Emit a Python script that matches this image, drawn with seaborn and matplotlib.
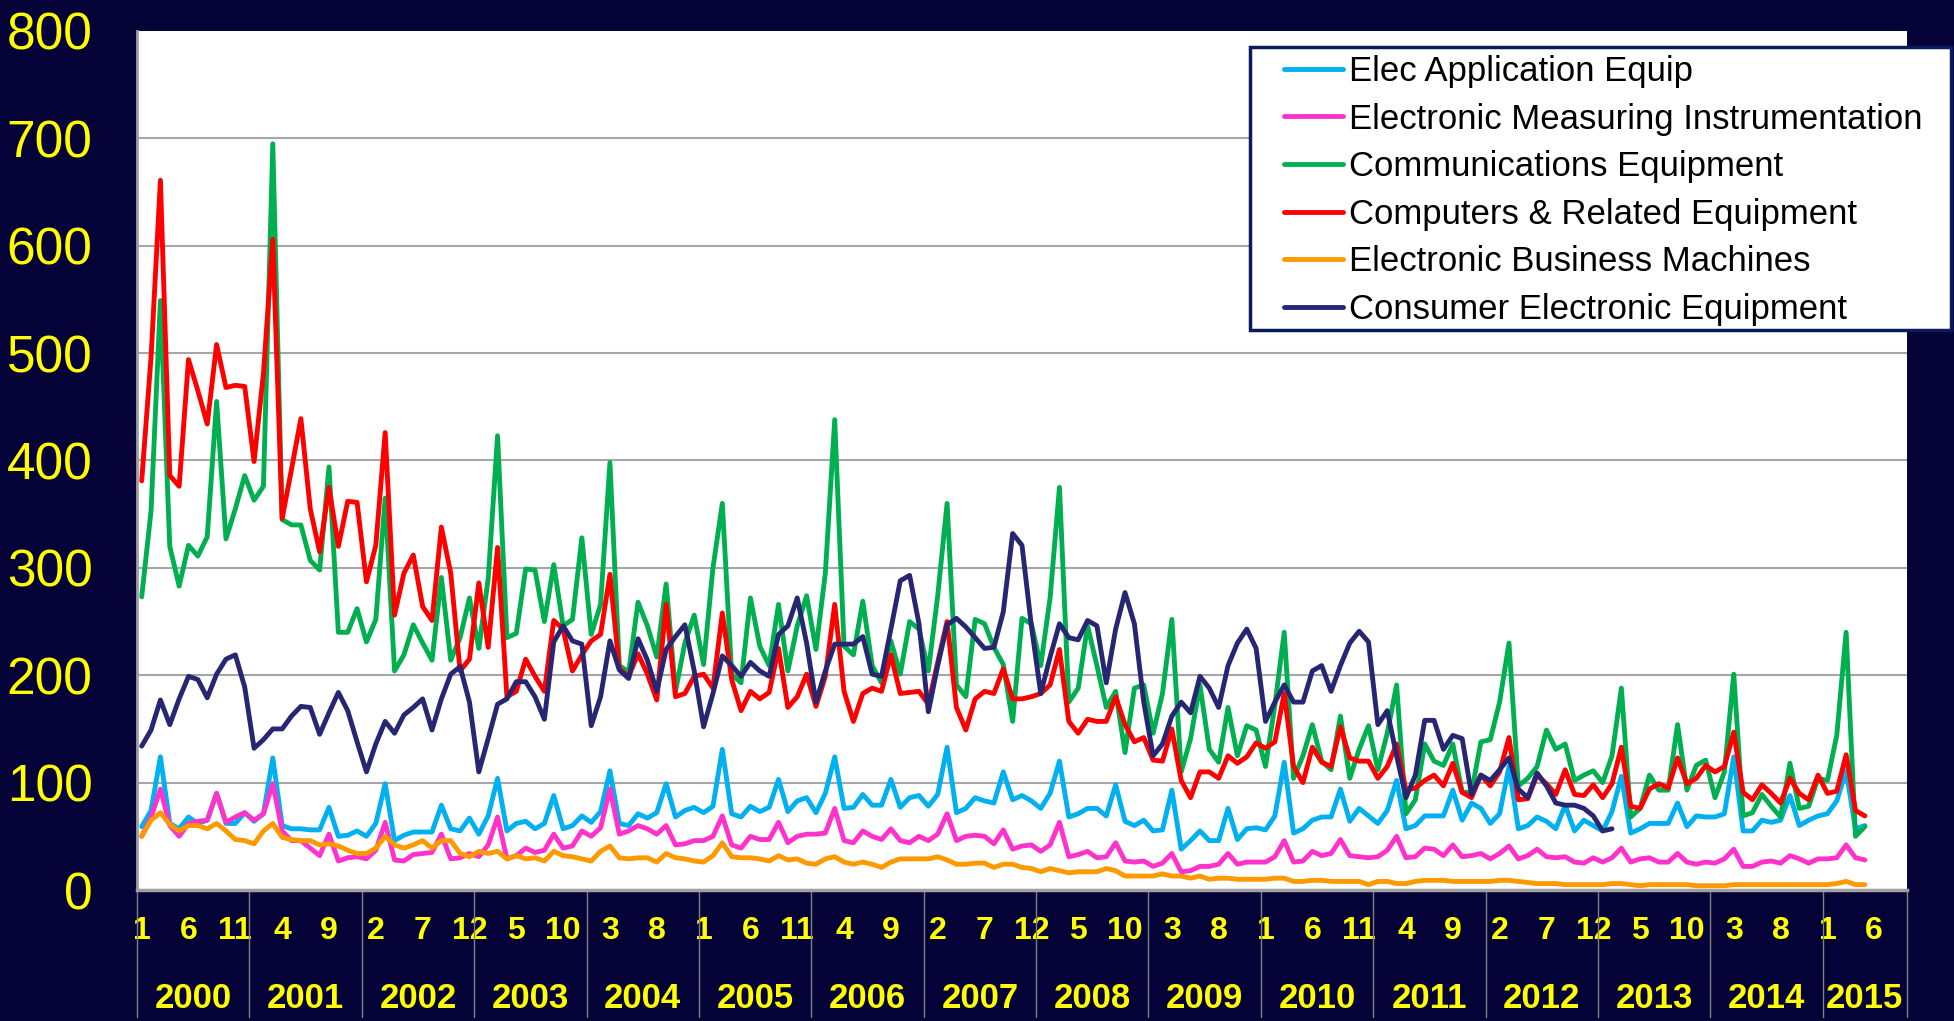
import numpy as np
import pandas as pd
import matplotlib
matplotlib.use("Agg")
import matplotlib.pyplot as plt
import matplotlib.transforms as mtransforms
from matplotlib.patches import Rectangle
from matplotlib.lines import Line2D
import seaborn as sns

# ---------------- data (monthly, Jan 2000 onward) ----------------
series_names = [
    "Elec Application Equip",
    "Electronic Measuring Instrumentation",
    "Communications Equipment",
    "Computers & Related Equipment",
    "Electronic Business Machines",
    "Consumer Electronic Equipment",
]

elec_application = [
    59, 74, 124, 62, 57, 68, 62, 65, 90, 62, 62, 72, 64, 71, 123, 60, 57, 57, 56, 56, 77, 50, 51, 55, 50, 62, 99, 46, 51, 54, 54, 54, 79,
    57, 55, 67, 52, 69, 104, 55, 62, 64, 57, 62, 88, 57, 60, 69, 63, 73, 111, 62, 60, 71, 67, 72, 99, 68, 74, 77, 72, 78, 131, 71, 68, 78, 73, 77, 103,
    73, 83, 86, 72, 90, 124, 76, 77, 89, 79, 79, 103, 77, 86, 88, 78, 89, 133, 72, 76, 86, 83, 81, 110, 84, 88, 83, 76, 90, 120, 68, 71, 76, 76,
    69, 98, 64, 60, 65, 55, 56, 93, 38, 46, 55, 46, 46, 76, 47, 57, 58, 56, 69, 119, 53, 57, 65, 68, 68, 94, 64, 76, 69, 62, 74, 102, 57,
    60, 69, 69, 69, 93, 65, 81, 76, 62, 71, 115, 57, 60, 68, 64, 57, 79, 55, 65, 60, 55, 73, 106, 53, 57, 62, 62, 62, 81, 59, 69,
    68, 68, 71, 124, 55, 55, 65, 63, 65, 88, 60, 65, 69, 71, 83, 111, 57, 60,
]

measuring_instr = [
    50, 68, 94, 60, 50, 62, 64, 65, 90, 63, 68, 72, 65, 71, 99, 55, 46, 46, 39, 32, 52, 27, 30, 31, 29, 37, 63, 28, 27, 33, 34, 35, 52,
    29, 30, 34, 31, 42, 68, 29, 32, 39, 35, 37, 52, 39, 41, 55, 50, 58, 94, 52, 55, 60, 57, 52, 60, 42, 43, 46, 46, 50, 69, 42, 39, 50, 47, 47, 63,
    44, 50, 52, 52, 53, 76, 46, 44, 55, 50, 47, 57, 46, 44, 50, 46, 52, 71, 46, 50, 51, 50, 43, 56, 38, 41, 42, 36, 42, 63, 31, 33, 36, 30,
    31, 44, 27, 26, 27, 22, 25, 34, 17, 18, 22, 22, 24, 34, 24, 26, 26, 26, 31, 46, 26, 27, 36, 32, 34, 47, 32, 31, 30, 31, 37, 50, 30,
    31, 39, 38, 32, 42, 31, 32, 34, 29, 34, 41, 29, 32, 38, 31, 30, 31, 26, 25, 30, 26, 30, 39, 26, 29, 30, 26, 26, 34, 26, 24,
    26, 25, 29, 38, 22, 22, 26, 27, 25, 32, 29, 25, 29, 29, 30, 42, 30, 28,
]

communications = [
    273, 353, 549, 320, 283, 321, 311, 329, 455, 327, 355, 386, 363, 376, 695, 345, 340, 340, 307, 298, 394, 240, 240, 262, 231, 252, 365, 204, 219, 247, 230, 214, 291,
    214, 235, 272, 225, 290, 423, 235, 239, 299, 298, 250, 303, 246, 252, 328, 238, 266, 398, 209, 203, 268, 246, 217, 285, 185, 230, 256, 210, 300, 360, 201, 193, 272, 227, 209, 266,
    204, 246, 274, 224, 295, 438, 227, 219, 269, 209, 193, 232, 201, 250, 243, 204, 274, 360, 191, 180, 252, 248, 226, 210, 157, 253, 248, 209, 272, 375, 175, 188, 246, 209,
    170, 185, 128, 188, 191, 146, 183, 252, 110, 141, 191, 131, 119, 170, 125, 153, 149, 115, 172, 240, 104, 125, 154, 120, 112, 162, 104, 131, 153, 112, 146, 191, 71,
    84, 136, 120, 116, 136, 91, 91, 138, 140, 175, 230, 97, 104, 115, 149, 131, 136, 102, 107, 111, 100, 125, 188, 68, 76, 107, 93, 93, 154, 93, 116,
    121, 86, 110, 201, 69, 72, 89, 78, 68, 118, 76, 78, 104, 102, 144, 240, 50, 59,
]

computers = [
    381, 496, 661, 386, 376, 494, 465, 434, 508, 468, 470, 469, 399, 481, 606, 346, 392, 439, 355, 315, 375, 320, 362, 361, 287, 321, 426, 256, 295, 312, 264, 251, 338,
    295, 204, 215, 286, 226, 319, 180, 185, 215, 199, 185, 251, 243, 204, 219, 232, 238, 294, 206, 199, 220, 201, 177, 266, 180, 183, 199, 201, 188, 258, 196, 167, 185, 178, 184, 225,
    170, 180, 201, 171, 199, 266, 185, 157, 183, 188, 185, 219, 183, 184, 185, 173, 212, 250, 170, 149, 178, 185, 183, 206, 178, 178, 180, 183, 191, 224, 157, 146, 159, 157,
    157, 180, 154, 138, 142, 121, 120, 150, 102, 86, 110, 110, 104, 125, 118, 124, 137, 132, 138, 183, 115, 100, 133, 119, 115, 152, 123, 120, 120, 104, 115, 136, 93,
    95, 102, 107, 97, 118, 91, 86, 107, 97, 110, 142, 84, 85, 107, 99, 89, 112, 89, 88, 98, 86, 99, 133, 78, 76, 94, 99, 95, 123, 99, 104,
    116, 110, 115, 147, 91, 84, 98, 90, 81, 104, 90, 84, 107, 90, 92, 126, 74, 69,
]

business_machines = [
    50, 65, 72, 61, 55, 60, 60, 57, 62, 55, 47, 46, 43, 55, 62, 49, 47, 46, 46, 42, 43, 41, 37, 34, 34, 39, 50, 42, 39, 42, 46, 39, 46,
    46, 34, 31, 36, 34, 36, 29, 32, 29, 30, 27, 36, 32, 31, 29, 27, 36, 41, 30, 29, 30, 30, 26, 34, 30, 29, 27, 26, 32, 44, 31, 30, 30, 29, 27, 32,
    28, 29, 25, 24, 29, 31, 26, 24, 26, 24, 21, 26, 29, 29, 29, 29, 31, 28, 24, 24, 25, 25, 21, 24, 24, 21, 20, 17, 20, 18, 16, 17, 17, 17,
    20, 18, 13, 13, 13, 13, 15, 13, 13, 11, 13, 10, 11, 11, 10, 10, 10, 10, 11, 11, 8, 8, 9, 9, 8, 8, 8, 8, 5, 8, 8, 6, 6,
    8, 9, 9, 9, 8, 8, 8, 8, 8, 9, 9, 8, 7, 6, 6, 6, 5, 5, 5, 5, 5, 6, 6, 5, 4, 5, 5, 5, 5, 5, 4,
    4, 4, 4, 5, 5, 5, 5, 5, 5, 5, 5, 5, 5, 5, 6, 8, 5, 5,
]

consumer = [
    134, 149, 177, 154, 178, 199, 196, 179, 201, 215, 219, 189, 132, 140, 150, 150, 162, 171, 170, 145, 165, 184, 167, 138, 110, 136, 157, 146, 163, 170, 178, 149, 178,
    201, 208, 175, 110, 141, 173, 178, 194, 194, 180, 159, 231, 246, 232, 229, 153, 180, 232, 205, 197, 234, 214, 185, 224, 236, 247, 204, 152, 183, 218, 209, 199, 212, 204, 199, 238,
    246, 272, 230, 175, 204, 229, 229, 229, 236, 201, 199, 243, 288, 293, 248, 166, 209, 247, 253, 245, 235, 225, 226, 259, 332, 321, 246, 183, 217, 248, 235, 233, 251, 246,
    193, 243, 277, 248, 175, 125, 136, 162, 175, 165, 199, 188, 170, 209, 230, 243, 225, 157, 175, 191, 175, 175, 204, 209, 185, 209, 230, 241, 231, 154, 167, 125, 86,
    107, 158, 158, 131, 144, 141, 89, 107, 102, 112, 123, 94, 86, 109, 97, 81, 79, 79, 76, 69, 55, 57,
]

all_series = [elec_application, measuring_instr, communications, computers,
              business_machines, consumer]
series_colors = ["#00B0F0", "#FF33CC", "#00B050", "#FF0000", "#FF9900", "#262673"]

start_year = 2000
years = list(range(2000, 2016))
n_axis_months = 189          # category axis runs Jan 2000 .. Sep 2015
label_every = 5              # month labels every 5th category

# ---------------- styling ----------------
BG = "#050237"
sns.set_theme(style="white")
plt.rcParams["font.family"] = ["Liberation Sans", "DejaVu Sans"]

W, H = 1954, 1021
fig = plt.figure(figsize=(W / 100, H / 100), dpi=100, facecolor=BG)
ax = fig.add_axes([137 / W, 1 - 890 / H, (1907 - 137) / W, (890 - 31) / H])
ax.set_facecolor("white")

rows = []
for name, vals in zip(series_names, all_series):
    for i, v in enumerate(vals):
        rows.append((i, v, name))
df = pd.DataFrame(rows, columns=["month", "value", "series"])

LW = 3.5
sns.lineplot(data=df, x="month", y="value", hue="series",
             hue_order=series_names, palette=series_colors,
             linewidth=LW, estimator=None, sort=False, legend=False, ax=ax,
             solid_joinstyle="round", solid_capstyle="round")

# y axis
ax.set_ylim(0, 800)
ax.set_yticks(np.arange(0, 801, 100))
ax.yaxis.grid(True, color="#A6A6A6", linewidth=1.5)
ax.xaxis.grid(False)
ax.get_ygridlines()[-1].set_visible(False)
ax.tick_params(axis="y", labelcolor="#FFFF00", labelsize=37, length=0, pad=32)
ax.set_ylabel("")

# x axis: month numbers every 5th category
ax.set_xlim(-0.5, n_axis_months - 0.5)
pos = [i for i in range(n_axis_months) if i % label_every == 0]
ax.set_xticks(pos)
ax.set_xticklabels([str(i % 12 + 1) for i in pos], fontsize=23,
                   fontweight="bold", color="#FFFF00")
ax.tick_params(axis="x", length=0, pad=19)
ax.set_xlabel("")

trans = mtransforms.blended_transform_factory(ax.transData, ax.transAxes)
bounds = [12 * (y - start_year) - 0.5 for y in years] + [n_axis_months - 0.5]
for k, y in enumerate(years):
    c = (bounds[k] + bounds[k + 1]) / 2
    ax.text(c, -0.1374, str(y), transform=trans, ha="center", va="baseline",
            fontsize=25, fontweight="bold", color="#FFFF00")
for b in bounds:
    ax.plot([b, b], [0, -0.148], transform=trans, color="#808080",
            linewidth=1.0, clip_on=False)

for s in ["top", "right"]:
    ax.spines[s].set_visible(False)
ax.spines["left"].set_color("#A0A0A0")
ax.spines["left"].set_linewidth(2)
ax.spines["bottom"].set_color("#A0A0A0")
ax.spines["bottom"].set_linewidth(2.5)

# legend with custom frame
rect = Rectangle((1250 / W, 1 - 330 / H), 701 / W, 283 / H,
                 transform=fig.transFigure, facecolor="white",
                 edgecolor="#0B1A5E", linewidth=2.5, zorder=9)
fig.add_artist(rect)
handles = [Line2D([0], [0], color=c, linewidth=LW) for c in series_colors]
leg = fig.legend(handles, series_names, loc="upper left",
                 bbox_to_anchor=(1284 / W, 1 - 55 / H), frameon=False,
                 fontsize=25, handlelength=1.7, handletextpad=0.18,
                 labelspacing=0.42, borderpad=0, borderaxespad=0)
leg.set_zorder(10)
for t in leg.get_texts():
    t.set_color("black")

fig.savefig("out.png", dpi=100, facecolor=BG)
